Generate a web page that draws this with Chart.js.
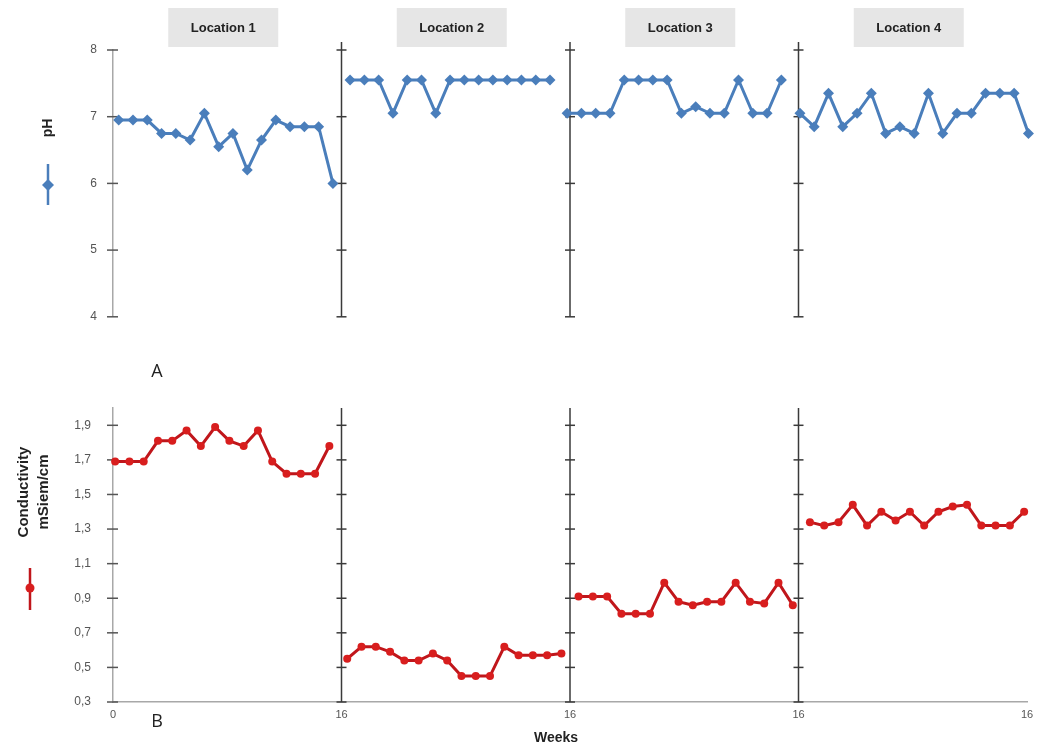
<!DOCTYPE html>
<html>
<head>
<meta charset="utf-8">
<script src="https://cdn.jsdelivr.net/npm/chart.js@4.4.1/dist/chart.umd.min.js"></script>
<style>
  html, body { margin:0; padding:0; background:#fff; overflow:hidden; }
  #wrap { position:relative; width:1044px; height:749px; background:#fff; }
  .box { position:absolute; left:0; width:1044px; }
</style>
</head>
<body>
<div id="wrap">
  <div class="box" style="top:0;height:340px;"><canvas id="c1"></canvas></div>
  <div class="box" style="top:340px;height:409px;"><canvas id="c2"></canvas></div>
</div>
<script>
// ---------- DATA ----------
const locations = ['Location 1', 'Location 2', 'Location 3', 'Location 4'];
const weeksPerLocation = 16;

// pH per location (weekly readings)
const phLoc1 = [6.95,6.95,6.95,6.75,6.75,6.65,7.05,6.55,6.75,6.2,6.65,6.95,6.85,6.85,6.85,6.0];
const phLoc2 = [7.55,7.55,7.55,7.05,7.55,7.55,7.05,7.55,7.55,7.55,7.55,7.55,7.55,7.55,7.55];
const phLoc3 = [7.05,7.05,7.05,7.05,7.55,7.55,7.55,7.55,7.05,7.15,7.05,7.05,7.55,7.05,7.05,7.55];
const phLoc4 = [7.05,6.85,7.35,6.85,7.05,7.35,6.75,6.85,6.75,7.35,6.75,7.05,7.05,7.35,7.35,7.35,6.75];

// Conductivity (mSiem/cm) per location
const condLoc1 = [1.69,1.69,1.69,1.81,1.81,1.87,1.78,1.89,1.81,1.78,1.87,1.69,1.62,1.62,1.62,1.78];
const condLoc2 = [0.55,0.62,0.62,0.59,0.54,0.54,0.58,0.54,0.45,0.45,0.45,0.62,0.57,0.57,0.57,0.58];
const condLoc3 = [0.91,0.91,0.91,0.81,0.81,0.81,0.99,0.88,0.86,0.88,0.88,0.99,0.88,0.87,0.99,0.86];
const condLoc4 = [1.34,1.32,1.34,1.44,1.32,1.40,1.35,1.40,1.32,1.40,1.43,1.44,1.32,1.32,1.32,1.40];

// first week position of each series on the shared week axis
const phStart   = [0.4, 16.6, 31.8, 48.1];
const condStart = [0.15, 16.4, 32.6, 48.8];

// ticks
const phTicks = [4,5,6,7,8];
const condTicks = [0.3,0.5,0.7,0.9,1.1,1.3,1.5,1.7,1.9];
const weekTicks = [0,16,32,48,64];
const weekTickLabels = ['0','16','16','16','16'];
const dividers = [16,32,48];

// ---------- HELPERS ----------
const phSeries = [phLoc1, phLoc2, phLoc3, phLoc4];
const condSeries = [condLoc1, condLoc2, condLoc3, condLoc4];
const toPoints = (vals, start) => vals.map((v,i) => ({x: start + i, y: v}));

const BLUE = '#4a7ebb';
const RED_LINE = '#c0161b';
const RED_PT = '#d81e1e';
const AXIS_GREY = '#a8a8a8';
const DIV_COL = '#3a3a3a';
const TICK_COL = '#555';

function hline(ctx, x1, x2, y, col, w){ ctx.beginPath(); ctx.strokeStyle=col; ctx.lineWidth=w; ctx.moveTo(x1,y); ctx.lineTo(x2,y); ctx.stroke(); }
function vline(ctx, x, y1, y2, col, w){ ctx.beginPath(); ctx.strokeStyle=col; ctx.lineWidth=w; ctx.moveTo(x,y1); ctx.lineTo(x,y2); ctx.stroke(); }

function drawDividers(chart, ticks, extendTop){
  const {ctx, chartArea:a, scales:{x, y}} = chart;
  ctx.save();
  ticks.forEach(t => hline(ctx, a.left-6, a.left+5, y.getPixelForValue(t), TICK_COL, 1.5));
  dividers.forEach(d => {
    const px = x.getPixelForValue(d);
    vline(ctx, px, a.top - extendTop, a.bottom, DIV_COL, 1.5);
    ticks.forEach(t => hline(ctx, px-5, px+5, y.getPixelForValue(t), DIV_COL, 1.5));
  });
  ctx.restore();
}

Chart.defaults.font.family = "'Liberation Sans', Arial, sans-serif";

// ---------- TOP CHART (pH) ----------
const topPlugin = {
  id: 'topDeco',
  beforeDatasetsDraw(chart){ drawDividers(chart, phTicks, 8); },
  afterDraw(chart){
    const {ctx, scales:{x}} = chart;
    ctx.save();
    locations.forEach((name, i) => {
      const cx = x.getPixelForValue(weeksPerLocation * i + weeksPerLocation/2) - 4;
      ctx.fillStyle = '#e6e6e6';
      ctx.fillRect(cx - 55, 8, 110, 39);
      ctx.fillStyle = '#222';
      ctx.font = "bold 13px 'Liberation Sans', Arial, sans-serif";
      ctx.textAlign = 'center'; ctx.textBaseline = 'middle';
      ctx.fillText(name, cx, 28);
    });
    ctx.translate(48, 128); ctx.rotate(-Math.PI/2);
    ctx.fillStyle = '#222';
    ctx.font = "bold 14px 'Liberation Sans', Arial, sans-serif";
    ctx.textAlign = 'center'; ctx.textBaseline = 'middle';
    ctx.fillText('pH', 0, 0);
    ctx.setTransform(1,0,0,1,0,0);
    vline(ctx, 48, 164, 205, BLUE, 2.5);
    ctx.fillStyle = BLUE;
    ctx.beginPath(); ctx.moveTo(48,179); ctx.lineTo(54,185); ctx.lineTo(48,191); ctx.lineTo(42,185); ctx.closePath(); ctx.fill();
    ctx.restore();
  }
};

new Chart(document.getElementById('c1'), {
  type: 'line',
  data: {
    datasets: phSeries.map((vals, i) => ({
      label: locations[i],
      data: toPoints(vals, phStart[i]),
      borderColor: BLUE,
      backgroundColor: BLUE,
      borderWidth: 3,
      pointStyle: 'rectRot',
      pointRadius: 5.5,
      pointBorderWidth: 0,
      pointBackgroundColor: BLUE,
      tension: 0,
      clip: false
    }))
  },
  options: {
    responsive: true,
    maintainAspectRatio: false,
    animation: false,
    layout: { padding: { left: 0, right: 17, top: 50, bottom: 20 } },
    plugins: { legend: { display: false }, tooltip: { enabled: false } },
    scales: {
      x: { type: 'linear', min: 0, max: 64, display: false },
      y: {
        type: 'linear', min: 4, max: 8,
        afterFit: s => { s.width = 113; },
        afterBuildTicks: s => { s.ticks = phTicks.map(v => ({value: v})); },
        grid: { display: false, drawTicks: false },
        border: { display: true, color: AXIS_GREY, width: 1.5 },
        ticks: { padding: 16, color: TICK_COL, font: { size: 12 }, callback: v => String(v) }
      }
    }
  },
  plugins: [topPlugin]
});

// ---------- BOTTOM CHART (Conductivity) ----------
const botPlugin = {
  id: 'botDeco',
  beforeDatasetsDraw(chart){ drawDividers(chart, condTicks, 0); },
  afterDraw(chart){
    const {ctx} = chart;
    ctx.save();
    ctx.fillStyle = '#222';
    ctx.textAlign = 'center'; ctx.textBaseline = 'middle';
    ctx.font = "18px 'Open Sans', Arial, sans-serif";
    ctx.fillText('A', 157, 32);
    ctx.fillText('B', 157, 382);
    ctx.font = "bold 14px 'Liberation Sans', Arial, sans-serif";
    ctx.fillText('Weeks', 556, 398);
    ctx.translate(24, 152); ctx.rotate(-Math.PI/2);
    ctx.font = "bold 15px 'Liberation Sans', Arial, sans-serif";
    ctx.fillText('Conductivity', 0, 0);
    ctx.fillText('mSiem/cm', 0, 20);
    ctx.setTransform(1,0,0,1,0,0);
    vline(ctx, 30, 228, 270, RED_LINE, 2.5);
    ctx.fillStyle = RED_PT;
    ctx.beginPath(); ctx.arc(30, 248, 4.5, 0, Math.PI*2); ctx.fill();
    ctx.restore();
  }
};

new Chart(document.getElementById('c2'), {
  type: 'line',
  data: {
    datasets: condSeries.map((vals, i) => ({
      label: locations[i],
      data: toPoints(vals, condStart[i]),
      borderColor: RED_LINE,
      backgroundColor: RED_PT,
      borderWidth: 3,
      pointStyle: 'circle',
      pointRadius: 4,
      pointBorderWidth: 0,
      pointBackgroundColor: RED_PT,
      tension: 0,
      clip: false
    }))
  },
  options: {
    responsive: true,
    maintainAspectRatio: false,
    animation: false,
    layout: { padding: { left: 0, right: 17, top: 68, bottom: 0 } },
    plugins: { legend: { display: false }, tooltip: { enabled: false } },
    scales: {
      x: {
        type: 'linear', min: 0, max: 64,
        afterFit: s => { s.height = 47; },
        afterBuildTicks: s => { s.ticks = weekTicks.map(v => ({value: v})); },
        grid: { display: false, drawTicks: false },
        border: { display: true, color: AXIS_GREY, width: 1.5 },
        ticks: { padding: 6, color: TICK_COL, font: { size: 11 }, maxRotation: 0,
                 callback: (v, idx) => weekTickLabels[idx] }
      },
      y: {
        type: 'linear', min: 0.3, max: 2.0,
        afterFit: s => { s.width = 113; },
        afterBuildTicks: s => { s.ticks = condTicks.map(v => ({value: v})); },
        grid: { display: false, drawTicks: false },
        border: { display: true, color: AXIS_GREY, width: 1.5 },
        ticks: { padding: 22, color: TICK_COL, font: { size: 12 },
                 callback: v => Number(v).toFixed(1).replace('.', ',') }
      }
    }
  },
  plugins: [botPlugin]
});
</script>
</body>
</html>
